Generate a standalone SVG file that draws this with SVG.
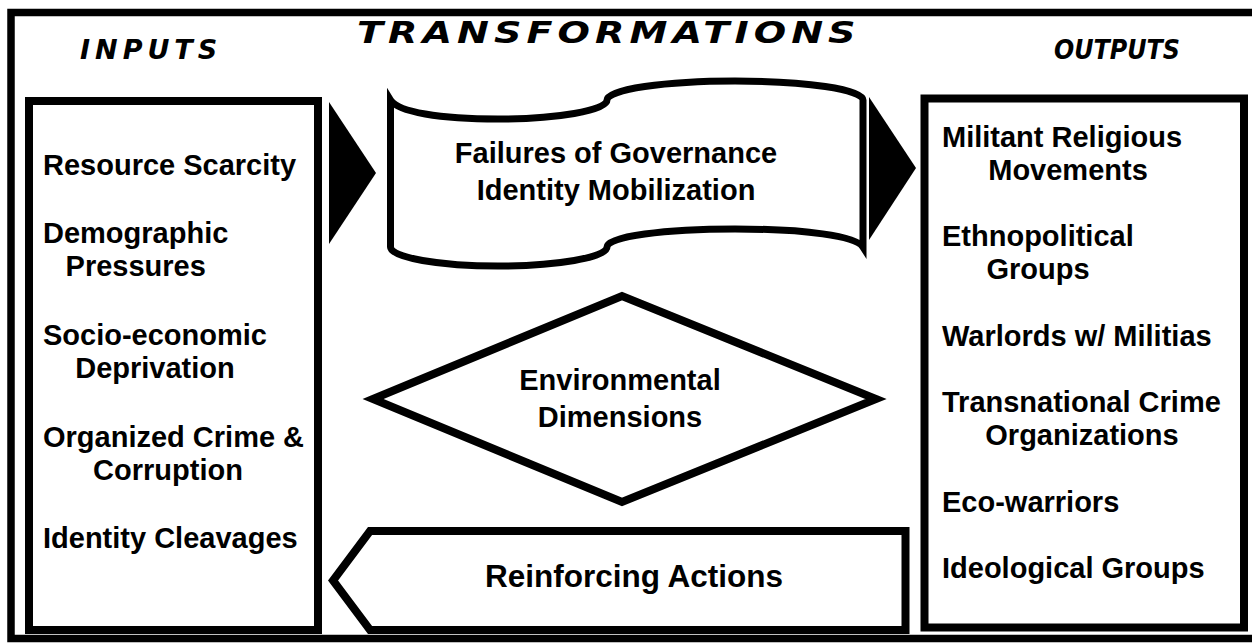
<svg xmlns="http://www.w3.org/2000/svg" width="1252" height="643" viewBox="0 0 1252 643">
<style>
.shape{fill:#fff;stroke:#000;stroke-width:8;stroke-linejoin:miter;stroke-miterlimit:10}
.t{font-family:"Liberation Sans",Arial,sans-serif;font-weight:bold;font-size:29px;fill:#000}
.m{text-anchor:middle}
.title{font-family:"DejaVu Sans",Verdana,sans-serif;font-weight:bold;font-style:italic;fill:#000}
</style>
<rect x="0" y="0" width="1252" height="643" fill="#fff"/>
<rect id="frame" x="11" y="12.5" width="1262" height="626" fill="none" stroke="#000" stroke-width="7.5"/>
<g id="titles">
<text class="title" x="80" y="59" style="font-size:27px;letter-spacing:5px">INPUTS</text>
<text class="title" transform="translate(357,43) scale(1.27,1)" x="0" y="0" style="font-size:30px;letter-spacing:4px">TRANSFORMATIONS</text>
<text class="title" x="1054" y="59" style="font-size:27px" textLength="126" lengthAdjust="spacingAndGlyphs">OUTPUTS</text>
</g>
<g id="inputs">
<rect class="shape" x="29" y="101" width="289" height="529"/>
<text class="t" x="43" y="175">Resource Scarcity</text>
<text class="t" x="43" y="243">Demographic</text>
<text class="t m" x="135.7" y="276">Pressures</text>
<text class="t" x="43" y="345">Socio-economic</text>
<text class="t m" x="155" y="378">Deprivation</text>
<text class="t" x="43" y="447">Organized Crime &amp;</text>
<text class="t m" x="168" y="480">Corruption</text>
<text class="t" x="43" y="548">Identity Cleavages</text>
</g>
<g id="outputs">
<rect class="shape" x="924.5" y="98.5" width="319.5" height="529"/>
<text class="t" x="942" y="147">Militant Religious</text>
<text class="t m" x="1068" y="180">Movements</text>
<text class="t" x="942" y="246">Ethnopolitical</text>
<text class="t m" x="1038" y="279">Groups</text>
<text class="t" x="942" y="346">Warlords w/ Militias</text>
<text class="t" x="942" y="412">Transnational Crime</text>
<text class="t m" x="1082" y="445">Organizations</text>
<text class="t" x="942" y="512">Eco-warriors</text>
<text class="t" x="942" y="578">Ideological Groups</text>
</g>
<g id="governance">
<path class="shape" style="stroke-width:7" d="M390.5,100 C398,112 440,119 498,119 C556,119 607,110.5 607,100 C607,89.5 665,81 735,81 C805,81 863,89.5 863,100 L863,247 C856,236 805,229 735,229 C665,229 607,236.5 607,247 C607,257.5 556,266 498,266 C440,266 390.5,257.5 390.5,247 Z"/>
<text class="t m" x="616" y="163">Failures of Governance</text>
<text class="t m" x="616" y="200">Identity Mobilization</text>
</g>
<g id="environmental">
<polygon class="shape" points="373,399 622,296 876,399 622,502"/>
<text class="t m" x="620" y="390">Environmental</text>
<text class="t m" x="620" y="427">Dimensions</text>
</g>
<g id="reinforcing">
<polygon class="shape" points="370,531 905.5,531 905.5,630 370,630 333,580.5"/>
<text class="t m" x="634" y="587" style="font-size:31.5px">Reinforcing Actions</text>
</g>
<g id="connectors">
<polygon points="329,102 376,173 329,244" fill="#000"/>
<polygon points="869,97 916,168 869,240" fill="#000"/>
</g>
</svg>
